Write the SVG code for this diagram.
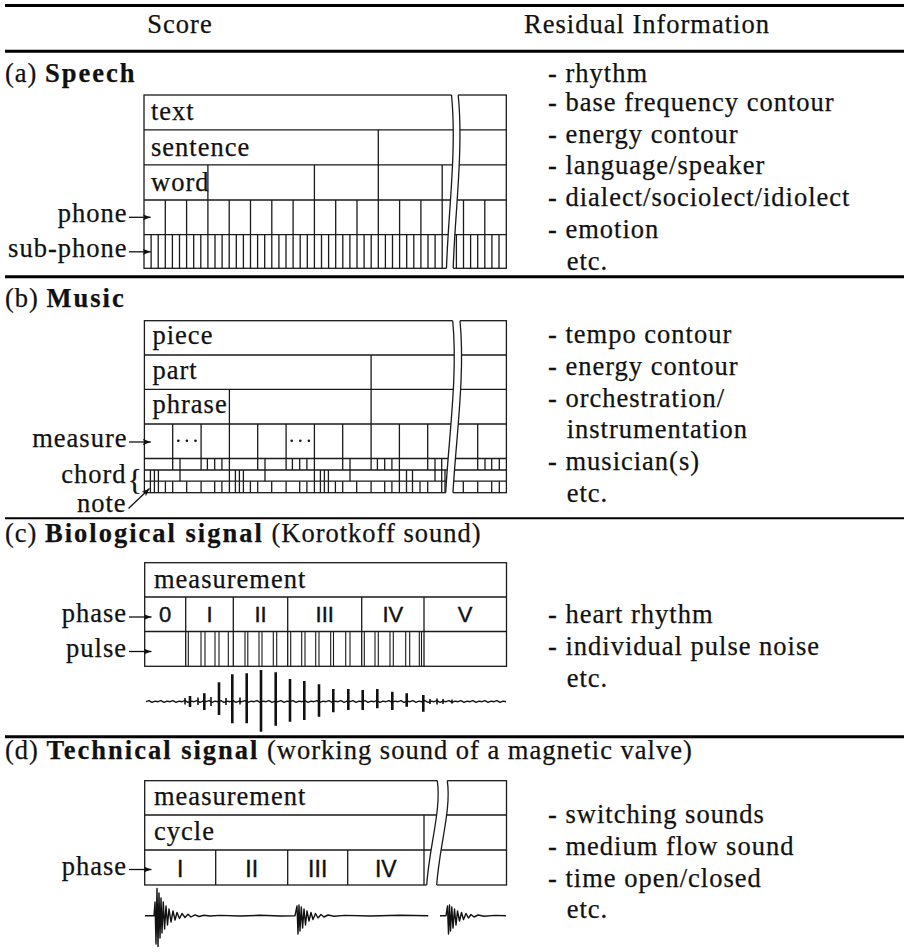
<svg xmlns="http://www.w3.org/2000/svg" width="904" height="952" viewBox="0 0 904 952">
<defs>
<style>
.t{font-family:"Liberation Serif","Times New Roman",serif;font-size:26.5px;letter-spacing:1px;fill:#111;stroke:#111;stroke-width:0.25}
.e{text-anchor:end}
.b{font-weight:bold;letter-spacing:2px}
.s{font-family:"Liberation Sans",Arial,sans-serif;font-size:22px;text-anchor:middle;fill:#111;stroke:#111;stroke-width:0.4}
.g{fill:none;stroke:#1a1a1a;stroke-width:1.3}
.rule{stroke:#000;stroke-width:3}
.brk{fill:#fff;stroke:none}
.ar{fill:none;stroke:#111;stroke-width:1.3;marker-end:url(#ah)}
.wv{fill:none;stroke:#111;stroke-width:1.4;stroke-linejoin:round}
.sp{fill:none;stroke:#111;stroke-width:2.6}
</style>
<marker id="ah" markerWidth="9" markerHeight="7" refX="8" refY="3" orient="auto" markerUnits="userSpaceOnUse">
<path d="M0,0 L8,3 L0,6 L2,3 Z" fill="#111"/>
</marker>
</defs>
<rect width="904" height="952" fill="#fff"/>

<g id="rules">
<line class="rule" x1="5" y1="5.5" x2="904" y2="5.5"/>
<line class="rule" x1="5" y1="51.3" x2="904" y2="51.3"/>
<line class="rule" x1="5" y1="276.7" x2="904" y2="276.7"/>
<line class="rule" x1="5" y1="518.3" x2="904" y2="518.3" style="stroke-width:2"/>
<line class="rule" x1="5" y1="736.7" x2="904" y2="736.7"/>
</g>

<g id="header">
<text class="t" x="180" y="33" text-anchor="middle">Score</text>
<text class="t" x="647" y="33" text-anchor="middle">Residual Information</text>
</g>

<g id="speech">
<text class="t" x="5" y="81.7">(a) <tspan class="b">Speech</tspan></text>
<rect class="g" x="144" y="95" width="362.3" height="173.3"/>
<path class="g" d="M144,129.8H506.3M144,164.8H506.3M144,200H506.3M144,234.6H506.3"/>
<path class="g" d="M378.3,129.8V200M207.9,164.8V200M314.4,164.8V200M442.2,164.8V200"/>
<path class="g" d="M165.3,200V268.3M186.6,200V268.3M207.9,200V268.3M229.2,200V268.3M250.5,200V268.3M271.8,200V268.3M293.1,200V268.3M314.4,200V268.3M335.7,200V268.3M357,200V268.3M378.3,200V268.3M399.6,200V268.3M420.9,200V268.3M442.2,200V268.3M463.5,200V268.3M484.8,200V268.3"/>
<path class="g" d="M151.1,234.6V268.3M158.2,234.6V268.3M172.4,234.6V268.3M179.5,234.6V268.3M193.7,234.6V268.3M200.8,234.6V268.3M215,234.6V268.3M222.1,234.6V268.3M236.3,234.6V268.3M243.4,234.6V268.3M257.6,234.6V268.3M264.7,234.6V268.3M278.9,234.6V268.3M286,234.6V268.3M300.2,234.6V268.3M307.3,234.6V268.3M321.5,234.6V268.3M328.6,234.6V268.3M342.8,234.6V268.3M349.9,234.6V268.3M364.1,234.6V268.3M371.2,234.6V268.3M385.4,234.6V268.3M392.5,234.6V268.3M406.7,234.6V268.3M413.8,234.6V268.3M428,234.6V268.3M435.1,234.6V268.3M449.3,234.6V268.3M456.4,234.6V268.3M470.6,234.6V268.3M477.7,234.6V268.3M491.9,234.6V268.3M499,234.6V268.3"/>
<path class="brk" d="M451.5,93 L451.5,95 C457,150 448,215 446.5,268.3 L446.5,270.5 L453.2,270.5 L453.2,268.3 C454.7,215 463.7,150 458.2,95 L458.2,93 Z"/>
<path class="g" d="M451.5,95 C457,150 448,215 446.5,268.3M458.2,95 C463.7,150 454.7,215 453.2,268.3"/>
<text class="t" x="151" y="120.3">text</text>
<text class="t" x="151" y="156">sentence</text>
<text class="t" x="151" y="191.3">word</text>
<text class="t e" x="127.5" y="222.2">phone</text>
<text class="t e" x="127.5" y="256.8">sub-phone</text>
</g>

<g id="music">
<text class="t" x="5" y="306.7">(b) <tspan class="b">Music</tspan></text>
<rect class="g" x="144.4" y="320.7" width="362" height="172"/>
<path class="g" d="M144.4,355H506.4M144.4,389.3H506.4M144.4,424H506.4M144.4,458.5H506.4M144.4,470H506.4M144.4,481.2H506.4"/>
<path class="g" d="M371.1,355V470M229.4,389.3V492.7M314.4,424V492.7M399.4,424V492.7M172.7,424V470M201.1,424V470M257.7,424V470M286.1,424V470M342.7,424V470M427.7,424V470M477.7,424V470"/>
<path class="g" d="M172.7,481.2V492.7M201.1,481.2V492.7M257.7,481.2V492.7M286.1,481.2V492.7M342.7,481.2V492.7M371.1,481.2V492.7M427.7,481.2V492.7M477.7,481.2V492.7"/>
<path class="g" d="M180,458.5V470M207.4,458.5V470M214.7,458.5V470M221.9,458.5V470M265,458.5V470M292.4,458.5V470M299.7,458.5V470M306.9,458.5V470M350,458.5V470M377.4,458.5V470M384.7,458.5V470M391.9,458.5V470M435,458.5V470M441.7,458.5V470M485,458.5V470M491.7,458.5V470M499.3,458.5V470"/>
<path class="g" d="M150.4,470V481.2M154.4,470V481.2M158.4,470V481.2M180,470V481.2M235.4,470V481.2M239.4,470V481.2M243.4,470V481.2M265,470V481.2M320.4,470V481.2M324.4,470V481.2M328.4,470V481.2M350,470V481.2M406.5,470V481.2M412.5,470V481.2M435,470V481.2M441.7,470V481.2M445,470V481.2"/>
<path class="g" d="M150.4,481.2V492.7M154.4,481.2V492.7M158.4,481.2V492.7M165.4,481.2V492.7M186.7,481.2V492.7M214.7,481.2V492.7M221.9,481.2V492.7M235.4,481.2V492.7M239.4,481.2V492.7M243.4,481.2V492.7M250.4,481.2V492.7M271.7,481.2V492.7M299.7,481.2V492.7M306.9,481.2V492.7M320.4,481.2V492.7M324.4,481.2V492.7M328.4,481.2V492.7M335.4,481.2V492.7M356.7,481.2V492.7M384.7,481.2V492.7M391.9,481.2V492.7M406.5,481.2V492.7M412.5,481.2V492.7M420,481.2V492.7M441.7,481.2V492.7M445,481.2V492.7M463.3,481.2V492.7M491.7,481.2V492.7M499.3,481.2V492.7"/>
<path class="brk" d="M452.7,318.7 L452.7,320.7 C458,375 448.5,440 445.7,492.7 L445.7,494.5 L453,494.5 L453,492.7 C455.8,440 465.3,375 460,320.7 L460,318.7 Z"/>
<path class="g" d="M452.7,320.7 C458,375 448.5,440 445.7,492.7M460,320.7 C465.3,375 455.8,440 453,492.7"/>
<g fill="#111">
<circle cx="178.3" cy="440.7" r="1.3"/><circle cx="186.9" cy="440.7" r="1.3"/><circle cx="195.5" cy="440.7" r="1.3"/>
<circle cx="291.7" cy="440.7" r="1.3"/><circle cx="300.3" cy="440.7" r="1.3"/><circle cx="308.9" cy="440.7" r="1.3"/>
</g>
<text class="t" x="152.5" y="343.5">piece</text>
<text class="t" x="152.5" y="378.5">part</text>
<text class="t" x="152.5" y="413">phrase</text>
<text class="t e" x="127.5" y="447.3">measure</text>
<text class="t e" x="126.5" y="483.3">chord</text>
<text class="t" x="127.5" y="489" style="font-size:30px;letter-spacing:0">{</text>
<text class="t e" x="126.5" y="511.7">note</text>
</g>

<g id="bio">
<text class="t" x="5" y="542">(c) <tspan class="b">Biological signal</tspan> (Korotkoff sound)</text>
<rect class="g" x="144.7" y="562.7" width="361.8" height="103.6"/>
<path class="g" d="M144.7,597H506.5M144.7,631.5H506.5"/>
<path class="g" d="M185.7,597V666.3M233.3,597V666.3M287.7,597V666.3M361.7,597V666.3M424,597V666.3"/>
<path class="g" style="stroke-width:1.1" d="M188.3,631.5V666.3M201,631.5V666.3M205,631.5V666.3M215,631.5V666.3M219,631.5V666.3M228.3,631.5V666.3M245,631.5V666.3M247.8,631.5V666.3M259,631.5V666.3M262,631.5V666.3M273.3,631.5V666.3M276.7,631.5V666.3M290.7,631.5V666.3M301.7,631.5V666.3M305,631.5V666.3M315.7,631.5V666.3M319,631.5V666.3M330.7,631.5V666.3M333.5,631.5V666.3M345.7,631.5V666.3M350,631.5V666.3M364.3,631.5V666.3M375,631.5V666.3M378.3,631.5V666.3M390,631.5V666.3M393.3,631.5V666.3M405.7,631.5V666.3M409.7,631.5V666.3M419.3,631.5V666.3M421.5,631.5V666.3"/>
<text class="t" x="154" y="588.3">measurement</text>
<text class="s" x="165.2" y="622">0</text>
<text class="s" x="209.5" y="622">I</text>
<text class="s" x="260.5" y="622">II</text>
<text class="s" x="324.7" y="622">III</text>
<text class="s" x="392.8" y="622">IV</text>
<text class="s" x="465.2" y="622">V</text>
<text class="t e" x="127" y="621.7">phase</text>
<text class="t e" x="127" y="656.7">pulse</text>
<path class="wv" d="M146,701.7l3,-1 3,1.6 3,-1.2 3,0.6 3,-1 3,1.6 3,-1.2 3,0.6 3,-1 3,1.6 3,-1.2 3,0.6 3,-1 3,1.6 3,-1.2 3,0.6 3,-1 3,1.6 3,-1.2 3,0.6 3,-1 3,1.6 3,-1.2 3,0.6 3,-1 3,1.6 3,-1.2 3,0.6 3,-1 3,1.6 3,-1.2 3,0.6 3,-1 3,1.6 3,-1.2 3,0.6 3,-1 3,1.6 3,-1.2 3,0.6 3,-1 3,1.6 3,-1.2 3,0.6 3,-1 3,1.6 3,-1.2 3,0.6 3,-1 3,1.6 3,-1.2 3,0.6 3,-1 3,1.6 3,-1.2 3,0.6 3,-1 3,1.6 3,-1.2 3,0.6 3,-1 3,1.6 3,-1.2 3,0.6 3,-1 3,1.6 3,-1.2 3,0.6 3,-1 3,1.6 3,-1.2 3,0.6 3,-1 3,1.6 3,-1.2 3,0.6 3,-1 3,1.6 3,-1.2 3,0.6 3,-1 3,1.6 3,-1.2 3,0.6 3,-1 3,1.6 3,-1.2 3,0.6 3,-1 3,1.6 3,-1.2 3,0.6 3,-1 3,1.6 3,-1.2 3,0.6 3,-1 3,1.6 3,-1.2 3,0.6 3,-1 3,1.6 3,-1.2 3,0.6 3,-1 3,1.6 3,-1.2 3,0.6 3,-1 3,1.6 3,-1.2 3,0.6 3,-1 3,1.6 3,-1.2 3,0.6 3,-1 3,1.6 3,-1.2 3,0.6"/>
<path class="sp" d="M190,696V707M204.3,693.3V710M219,682.3V715M232.3,674.3V723.3M246.7,673.3V723.3M261,670V731.7M275.7,672.3V725.7M290,679V721.7M304.3,681V720M319,684.3V716.7M333.3,689V712.3M348.3,689V710M362.7,690V710M377.3,689V708.3M392.3,691.7V710M406.7,693.3V706.7M423.3,695V711.7"/>
<path class="wv" style="stroke-width:1.6" d="M185,698V704.5M198,697.5V705M211,697V706M226,698V705M240,697.5V704.5M430,699V704M437,698.5V704.5M443,699V704M452,699.5V703.5"/>
</g>

<g id="tech">
<text class="t" x="5" y="759">(d) <tspan class="b">Technical signal</tspan> (working sound of a magnetic valve)</text>
<rect class="g" x="144.7" y="780.7" width="361.8" height="104.3"/>
<path class="g" d="M144.7,815H506.5M144.7,850H506.5"/>
<path class="g" d="M424,815V885M215.7,850V885M287.7,850V885M347.7,850V885"/>
<path class="brk" d="M437.3,778.7 L437.3,780.7 C441.5,810 429.5,845 426.7,885 L426.7,887 L436.7,887 L436.7,885 C439.5,845 451.5,810 447.3,780.7 L447.3,778.7 Z"/>
<path class="g" d="M437.3,780.7 C441.5,810 429.5,845 426.7,885M447.3,780.7 C451.5,810 439.5,845 436.7,885"/>
<text class="t" x="154" y="805">measurement</text>
<text class="t" x="154" y="840">cycle</text>
<text class="s" x="180.2" y="876.5" style="font-size:23px">I</text>
<text class="s" x="251.7" y="876.5" style="font-size:23px">II</text>
<text class="s" x="317.7" y="876.5" style="font-size:23px">III</text>
<text class="s" x="385.8" y="876.5" style="font-size:23px">IV</text>
<text class="t e" x="127" y="874.7">phase</text>
<path class="wv" d="M145,915.7H154L155,902L156,944L157,888.5L158,946.5L159,893L160,938L161,898L162,933L163.3,902L164.6,929L166,906L167.5,925L169,909L171,922L173,911L175,920L177,912.5L179.5,918.5L182,913.5L185,917.5L188,914.2L191,917L195,914.8L199,916.5L204,915.2L210,916L220,915.4L240,916L260,915.3L280,916L295,915.7L297,906L298,934L299,905L300,931L301.3,907L302.6,928L304,909L305.5,925L307,911L309,921L311,912.5L313,919.5L315.5,913.5L318,918L321,914.5L324,917L328,915L334,916.2L345,915.4L370,916L400,915.3L428.3,915.7"/>
<path class="wv" d="M440,915.7H446L447.5,906L448.5,934L449.5,905L450.5,931L451.8,907L453,928L454.5,909L456,925L457.5,911L459.5,921L461.5,912.5L463.5,919.5L466,913.5L468.5,918L471,914.5L474,917L478,915L484,916.2L495,915.4L506,915.7"/>
</g>

<g id="residual">
<text class="t" x="548" y="81.7">- rhythm</text>
<text class="t" x="548" y="111">- base frequency contour</text>
<text class="t" x="548" y="142.5">- energy contour</text>
<text class="t" x="548" y="174">- language/speaker</text>
<text class="t" x="548" y="206">- dialect/sociolect/idiolect</text>
<text class="t" x="548" y="238">- emotion</text>
<text class="t" x="566.7" y="270">etc.</text>
<text class="t" x="548" y="343.3">- tempo contour</text>
<text class="t" x="548" y="374.5">- energy contour</text>
<text class="t" x="548" y="406.5">- orchestration/</text>
<text class="t" x="566.7" y="437.7">instrumentation</text>
<text class="t" x="548" y="470">- musician(s)</text>
<text class="t" x="566.7" y="501.7">etc.</text>
<text class="t" x="548" y="623.3">- heart rhythm</text>
<text class="t" x="548" y="655">- individual pulse noise</text>
<text class="t" x="566.7" y="686.7">etc.</text>
<text class="t" x="548" y="823.3">- switching sounds</text>
<text class="t" x="548" y="855">- medium flow sound</text>
<text class="t" x="548" y="886.7">- time open/closed</text>
<text class="t" x="566.7" y="918.3">etc.</text>
</g>

<g id="connectors">
<path class="ar" d="M129,217.3H150.7"/>
<path class="ar" d="M129,251.8H150.7"/>
<path class="ar" d="M129,442H150.7"/>
<path class="ar" d="M128.5,508.5L149.5,488.5"/>
<path class="ar" d="M129,617H151.5"/>
<path class="ar" d="M129,651.5H151.5"/>
<path class="ar" d="M129,869.5H151.5"/>
</g>
</svg>
